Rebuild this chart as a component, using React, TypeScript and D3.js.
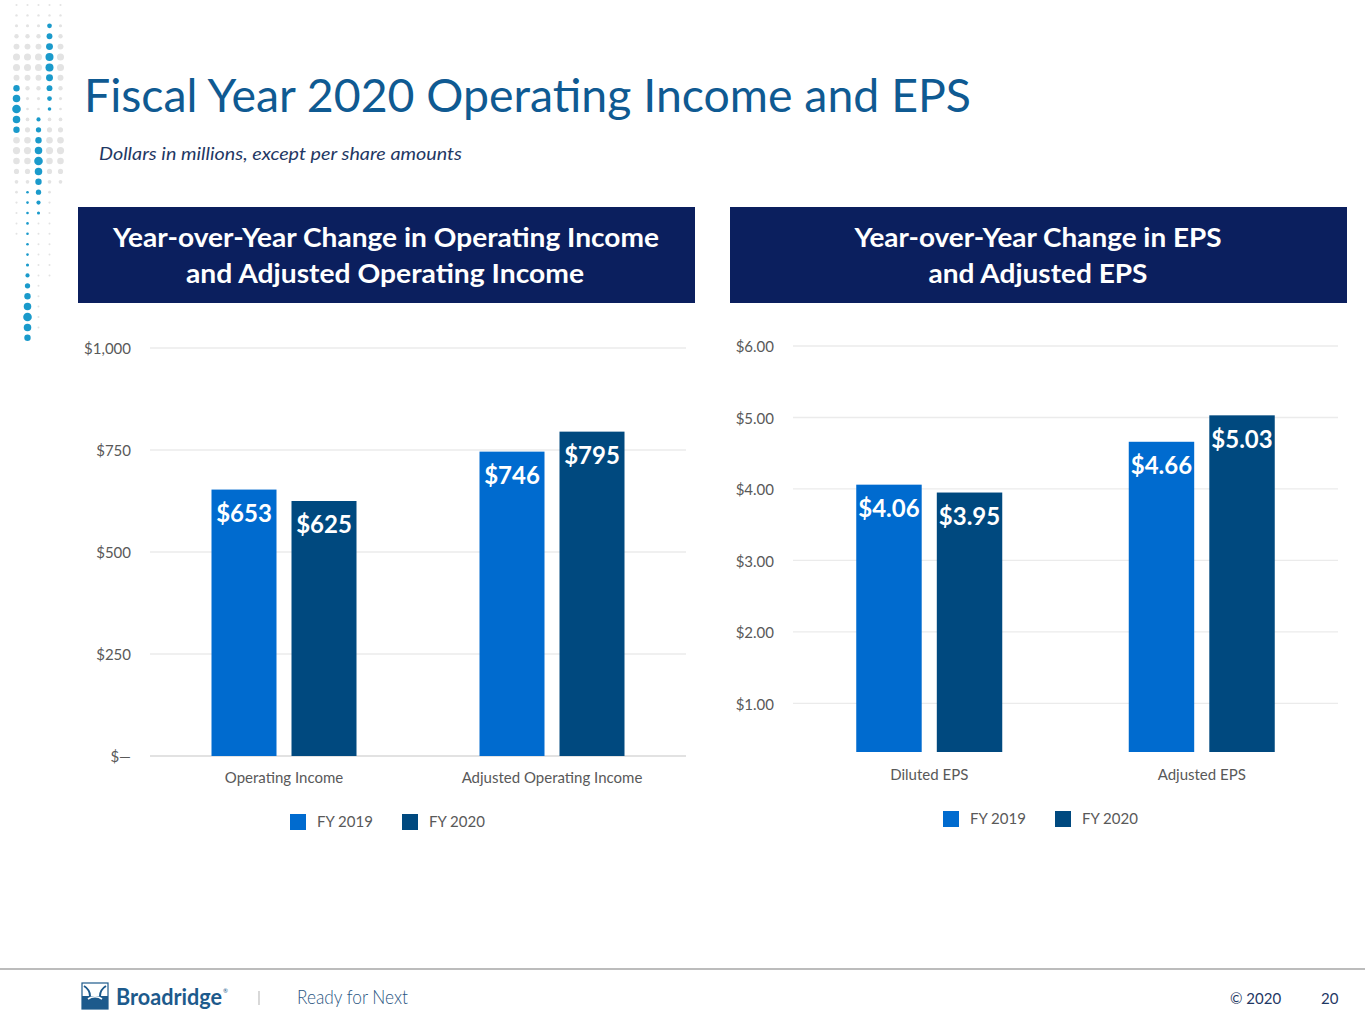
import * as d3 from "d3";

// chart values
const seriesNames = ["FY 2019", "FY 2020"];
const seriesColors = ["#006bcf", "#00497f"];

const incomeCategories = ["Operating Income", "Adjusted Operating Income"];
const incomeFy2019 = [653, 746];
const incomeFy2020 = [625, 795];
const incomeTicks = [0, 250, 500, 750, 1000];
const incomeTickLabels = ["$\u2014", "$250", "$500", "$750", "$1,000"];

const epsCategories = ["Diluted EPS", "Adjusted EPS"];
const epsFy2019 = [4.06, 4.66];
const epsFy2020 = [3.95, 5.03];
const epsTicks = [1, 2, 3, 4, 5, 6];
const epsTickLabels = ["$1.00", "$2.00", "$3.00", "$4.00", "$5.00", "$6.00"];
const epsAxisMin = 0.32;

const FONT = "Lato, 'Open Sans', sans-serif";

type PanelProps = {
  categories: string[];
  values: number[][];
  ticks: number[];
  tickLabels: string[];
  domain: [number, number];
  x0: number;
  x1: number;
  yTop: number;
  yBottom: number;
  groupWidth: number;
  labelFmt: (v: number) => string;
  showBaseline: boolean;
  catY: number;
  legendY: number;
  legendX: number;
};

function BarPanel(p: PanelProps) {
  const x = d3.scaleBand().domain(p.categories).range([p.x0, p.x1]).padding(0);
  const y = d3.scaleLinear().domain(p.domain).range([p.yBottom, p.yTop]);
  const base = y(p.domain[0]);

  return (
    <g fontFamily={FONT}>
      {p.ticks.map((t, i) => (
        <g key={t}>
          <line
            x1={p.x0}
            x2={p.x1}
            y1={y(t)}
            y2={y(t)}
            stroke={i === 0 && p.showBaseline ? "#d9d9d9" : "#ebebeb"}
            strokeWidth={1.3}
          />
          <text x={p.x0 - 19} y={y(t) + 1} dy="0.35em" textAnchor="end" fontSize={15} fill="#595959">
            {p.tickLabels[i]}
          </text>
        </g>
      ))}
      {p.categories.map((c, ci) => {
        const cx = (x(c) || 0) + x.bandwidth() / 2;
        const inner = d3
          .scaleBand()
          .domain(seriesNames)
          .range([cx - p.groupWidth / 2, cx + p.groupWidth / 2])
          .paddingInner(0.1875)
          .paddingOuter(0);
        return (
          <g key={c}>
            {seriesNames.map((s, si) => {
              const v = p.values[si][ci];
              const bx = inner(s) || 0;
              return (
                <g key={s}>
                  <rect
                    x={bx}
                    y={y(v)}
                    width={inner.bandwidth()}
                    height={base - y(v)}
                    fill={seriesColors[si]}
                  />
                  <text
                    x={bx + inner.bandwidth() / 2}
                    y={y(v) + 24}
                    dy="0.35em"
                    textAnchor="middle"
                    fontSize={24}
                    fontWeight={700}
                    fill="#ffffff"
                  >
                    {p.labelFmt(v)}
                  </text>
                </g>
              );
            })}
            <text x={cx} y={p.catY} dy="0.35em" textAnchor="middle" fontSize={15} fill="#595959">
              {c}
            </text>
          </g>
        );
      })}
      {seriesNames.map((s, si) => (
        <g key={s} transform={`translate(${p.legendX + si * 112},${p.legendY})`}>
          <rect x={0} y={-8} width={16} height={16} fill={seriesColors[si]} />
          <text x={27} y={0} dy="0.35em" fontSize={15} fill="#595959">
            {s}
          </text>
        </g>
      ))}
    </g>
  );
}

// decorative dot column (top-left)
const dotCols = [16.5, 27.5, 38.5, 49.5, 60.5];
const tealRuns = [
  { col: 3, from: 2, to: 10, peak: 5.5 },
  { col: 0, from: 8, to: 12, peak: 10 },
  { col: 2, from: 11, to: 20, peak: 15 },
  { col: 1, from: 18, to: 32, peak: 30 },
];
const grayRuns = [
  { col: 0, from: 0, to: 22 },
  { col: 1, from: 0, to: 17 },
  { col: 2, from: 0, to: 10 },
  { col: 2, from: 21, to: 31 },
  { col: 3, from: 0, to: 1 },
  { col: 3, from: 11, to: 26 },
  { col: 4, from: 0, to: 17 },
];

function Dots() {
  const rowY = (r: number) => 5 + r * 10.4;
  const out: JSX.Element[] = [];
  grayRuns.forEach((g, gi) => {
    for (let r = g.from; r <= g.to; r++) {
      const a = Math.exp(-((r - 5.5) ** 2) / 8);
      const b = Math.exp(-((r - 14) ** 2) / 8);
      const rad = 1 + 2.6 * Math.max(a, b) * (r > 20 ? 0.3 : 1);
      out.push(<circle key={`g${gi}-${r}`} cx={dotCols[g.col]} cy={rowY(r)} r={rad} fill="#e3e3e3" />);
    }
  });
  tealRuns.forEach((t, ti) => {
    for (let r = t.from; r <= t.to; r++) {
      const rad = Math.max(1.3, 4.3 - Math.abs(r - t.peak) * 0.55);
      out.push(<circle key={`t${ti}-${r}`} cx={dotCols[t.col]} cy={rowY(r)} r={rad} fill="#1a9acb" />);
    }
  });
  return <g>{out}</g>;
}

function Logo() {
  return (
    <g transform="translate(82,983)">
      <rect x={0} y={0} width={26} height={26} fill="#ffffff" stroke="#1d5a8c" strokeWidth={1.2} />
      <rect x={0} y={13} width={26} height={13} fill="#1d5a8c" />
      <path d="M2,3 C10,8 10,18 2,23 M24,3 C16,8 16,18 24,23" fill="none" stroke="#1d5a8c" strokeWidth={2} />
      <path d="M6,16 C10,13 16,13 20,16" fill="none" stroke="#ffffff" strokeWidth={1.6} />
    </g>
  );
}

export default function App() {
  return (
    <svg
      width={1365}
      height={1024}
      style={{ position: "absolute", left: 0, top: 0, background: "#ffffff" }}
      fontFamily={FONT}
    >
      <rect width={1365} height={1024} fill="#ffffff" />
      <Dots />
      <text x={84} y={112} fontSize={46} fill="#0f5a92" textLength={887} lengthAdjust="spacingAndGlyphs">
        Fiscal Year 2020 Operating Income and EPS
      </text>
      <text x={99} y={160} fontSize={17.5} fontStyle="italic" fill="#1f3864" textLength={363} lengthAdjust="spacingAndGlyphs">
        Dollars in millions, except per share amounts
      </text>

      <rect x={78} y={207} width={617} height={96} fill="#0b1f5e" />
      <text x={386} y={247} textAnchor="middle" fontSize={27} fontWeight={700} fill="#fff" textLength={546} lengthAdjust="spacingAndGlyphs">
        Year-over-Year  Change in Operating Income
      </text>
      <text x={385} y={283} textAnchor="middle" fontSize={27} fontWeight={700} fill="#fff" textLength={398} lengthAdjust="spacingAndGlyphs">
        and Adjusted Operating Income
      </text>

      <rect x={730} y={207} width={617} height={96} fill="#0b1f5e" />
      <text x={1038} y={247} textAnchor="middle" fontSize={27} fontWeight={700} fill="#fff" textLength={367} lengthAdjust="spacingAndGlyphs">
        Year-over-Year  Change in EPS
      </text>
      <text x={1038} y={283} textAnchor="middle" fontSize={27} fontWeight={700} fill="#fff" textLength={219} lengthAdjust="spacingAndGlyphs">
        and Adjusted EPS
      </text>

      <BarPanel
        categories={incomeCategories}
        values={[incomeFy2019, incomeFy2020]}
        ticks={incomeTicks}
        tickLabels={incomeTickLabels}
        domain={[0, 1000]}
        x0={150}
        x1={686}
        yTop={348}
        yBottom={756}
        groupWidth={145}
        labelFmt={(v) => d3.format("$,.0f")(v)}
        showBaseline={true}
        catY={778}
        legendY={822}
        legendX={290}
      />
      <BarPanel
        categories={epsCategories}
        values={[epsFy2019, epsFy2020]}
        ticks={epsTicks}
        tickLabels={epsTickLabels}
        domain={[epsAxisMin, 6]}
        x0={793}
        x1={1338}
        yTop={346}
        yBottom={752}
        groupWidth={146}
        labelFmt={(v) => d3.format("$.2f")(v)}
        showBaseline={false}
        catY={775}
        legendY={819}
        legendX={943}
      />

      <line x1={0} x2={1365} y1={969} y2={969} stroke="#a6a6a6" strokeWidth={1.5} />
      <Logo />
      <text x={116} y={1005} fontSize={22} fontWeight={700} fill="#1d5a8c" textLength={106} lengthAdjust="spacingAndGlyphs">
        Broadridge
      </text>
      <text x={223} y={993} fontSize={6} fill="#1d5a8c">®</text>
      <line x1={259} x2={259} y1={991} y2={1005} stroke="#bfbfbf" strokeWidth={1.2} />
      <text x={297} y={1004} fontSize={19} fontWeight={300} fill="#2a5682" textLength={111} lengthAdjust="spacingAndGlyphs">
        Ready for Next
      </text>
      <text x={1230} y={1004} fontSize={15} fill="#1f3864">© 2020</text>
      <text x={1321} y={1004} fontSize={15} fill="#1f3864">20</text>
    </svg>
  );
}
